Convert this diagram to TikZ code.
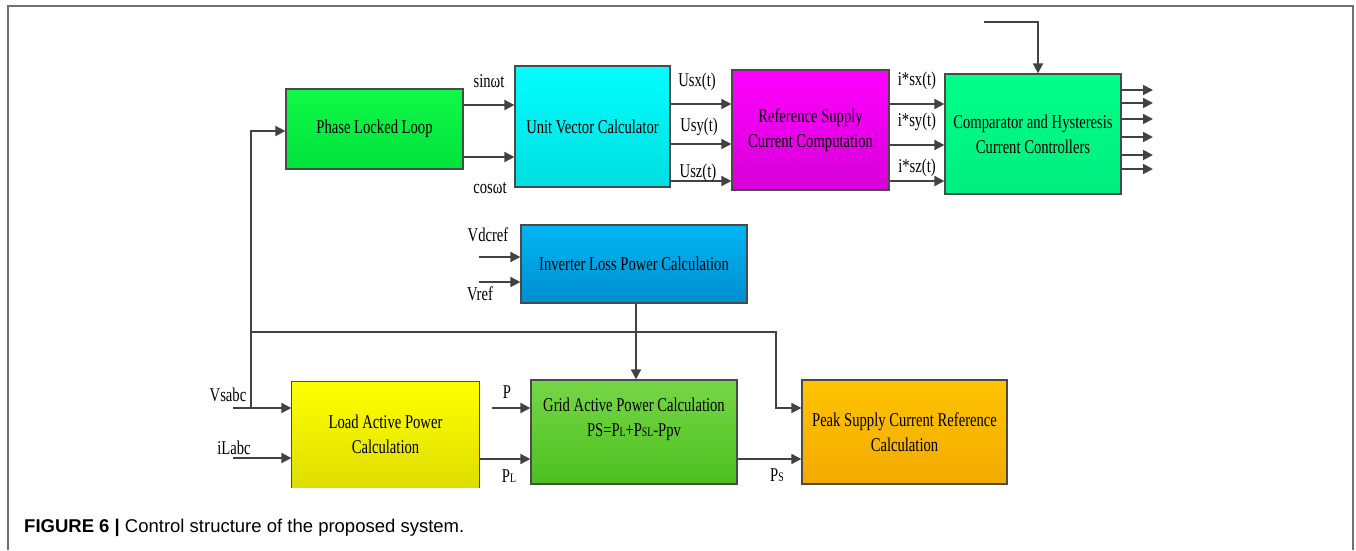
\documentclass[tikz,border=0pt]{standalone}
\usepackage{fontspec}
\setmainfont{Liberation Serif}
\newfontfamily\dfont[FakeStretch=0.75]{Liberation Serif}
\newfontfamily\capfont{Liberation Sans}
\usetikzlibrary{arrows.meta}
\definecolor{boxedge}{HTML}{4A4A4A}
\definecolor{wirec}{HTML}{424242}
\definecolor{framec}{HTML}{707070}
\newcommand\sml[1]{{\fontsize{13}{13}\selectfont #1}}
\tikzset{
  box/.style={draw=boxedge, line width=1.2pt, inner sep=0pt, align=center,
    font=\dfont\fontsize{19.5}{25}\selectfont, text=black},
  lbl/.style={inner sep=0pt, font=\dfont\fontsize{19.5}{25}\selectfont, text=black},
  wire/.style={draw=wirec, line width=1.8pt, line join=miter},
  arr/.style={wire, -{Triangle[length=10pt,width=10pt]}},
}
\begin{document}
\begin{tikzpicture}[x=1pt,y=-1pt]
\useasboundingbox (0,0) rectangle (1356,550);

% outer frame
\draw[framec, line width=1.8pt] (8,550) -- (8,6) -- (1353,6) -- (1353,550);

% blocks
\node[box, top color={rgb,255:red,16;green,250;blue,72}, bottom color={rgb,255:red,0;green,226;blue,60},
  minimum width=177pt, minimum height=80pt] (pll) at (374.5,129) {Phase Locked Loop};
\node[box, top color={rgb,255:red,0;green,255;blue,255}, bottom color={rgb,255:red,0;green,222;blue,224},
  minimum width=155pt, minimum height=121pt] (uvc) at (592.5,126.5) {Unit Vector Calculator};
\node[box, top color={rgb,255:red,255;green,0;blue,255}, bottom color={rgb,255:red,214;green,0;blue,214},
  minimum width=157pt, minimum height=120pt] (rscc) at (810.5,130) {Reference Supply\\Current Computation};
\node[box, top color={rgb,255:red,0;green,255;blue,136}, bottom color={rgb,255:red,0;green,238;blue,128},
  minimum width=176pt, minimum height=120pt] (chcc) at (1033,134) {Comparator and Hysteresis\\Current Controllers};
\node[box, top color={rgb,255:red,0;green,182;blue,242}, bottom color={rgb,255:red,0;green,142;blue,208},
  minimum width=226pt, minimum height=78pt] (inv) at (634,264) {Inverter Loss Power Calculation};
\node[box, draw=none, top color={rgb,255:red,255;green,255;blue,0}, bottom color={rgb,255:red,222;green,222;blue,0},
  minimum width=187pt, minimum height=105pt] (load) at (385.5,434.5) {Load Active Power\\Calculation};
\draw[boxedge, line width=1.2pt] (load.south west) -- (load.north west) -- (load.north east) -- (load.south east);
\node[box, top color={rgb,255:red,118;green,214;blue,70}, bottom color={rgb,255:red,76;green,192;blue,32},
  minimum width=206pt, minimum height=104pt] (grid) at (634,432) {};
\node[lbl, align=center] (gridtxt) at ([yshift=12.5pt]grid.center)
  {Grid Active Power Calculation\\PS=P\sml{L}+P\sml{SL}-Ppv};
\node[box, top color={rgb,255:red,255;green,196;blue,0}, bottom color={rgb,255:red,242;green,170;blue,0},
  minimum width=205pt, minimum height=104pt] (peak) at (904.5,432) {Peak Supply Current Reference\\Calculation};

% PLL -> unit vectors
\draw[arr] (pll.east |- 0,105) -- (uvc.west |- 0,105);
\draw[arr] (pll.east |- 0,157) -- (uvc.west |- 0,157);
\node[lbl] (lsin) at (489,81) {sinωt};
\node[lbl] (lcos) at (490,188) {cosωt};

% unit vectors -> reference currents
\draw[arr] (uvc.east |- 0,104) -- (rscc.west |- 0,104);
\draw[arr] (uvc.east |- 0,144) -- (rscc.west |- 0,144);
\draw[arr] (uvc.east |- 0,181) -- (rscc.west |- 0,181);
\node[lbl] (lusx) at (697,82) {Usx(t)};
\node[lbl] (lusy) at (699,127) {Usy(t)};
\node[lbl] (lusz) at (698,173) {Usz(t)};

% reference currents -> controllers
\draw[arr] (rscc.east |- 0,104) -- (chcc.west |- 0,104);
\draw[arr] (rscc.east |- 0,145) -- (chcc.west |- 0,145);
\draw[arr] (rscc.east |- 0,181) -- (chcc.west |- 0,181);
\node[lbl] (lisx) at (917,81) {i*sx(t)};
\node[lbl] (lisy) at (917,122) {i*sy(t)};
\node[lbl] (lisz) at (917,168) {i*sz(t)};

% controller outputs (switching signals)
\foreach \yy [count=\i] in {90,103,119,137,155,169} {
  \coordinate (out\i) at (1153,\yy);
  \draw[arr] (chcc.east |- out\i) -- (out\i);
}
% controller top input
\coordinate (topin) at (984,22);
\draw[arr] (topin) -| ([xshift=5pt]chcc.north);

% inverter loss inputs
\coordinate (vdcin) at (479,257);
\coordinate (vrefin) at (479,282);
\draw[arr] (vdcin) -- (inv.west |- vdcin);
\draw[arr] (vrefin) -- (inv.west |- vrefin);
\node[lbl] (lvdc) at (488,235) {Vdcref};
\node[lbl] (lvref) at (480,294) {Vref};

% inverter loss -> grid power
\draw[arr] ([xshift=2pt]inv.south) -- ([xshift=2pt]grid.north);

% supply voltage distribution
\coordinate (vsin) at (233,408);
\coordinate (vsj) at (251,408);
\coordinate (vsh) at (251,332);
\coordinate (vsp) at (776,408);
\draw[arr] (vsin) -- (load.west |- vsin);
\draw[arr] (vsj) -- (251,131) -- (pll.west |- 0,131);
\draw[arr] (vsh) -| (vsp) -- (peak.west |- vsp);
\node[lbl] (lvs) at (228,395) {Vsabc};

% load current input
\coordinate (ilin) at (233,458);
\draw[arr] (ilin) -- (load.west |- ilin);
\node[lbl] (lil) at (234,448) {iLabc};

% power signals
\coordinate (pin) at (492,408);
\draw[arr] (pin) -- (grid.west |- pin);
\node[lbl] (lp) at (507,392) {P};
\draw[arr] (load.east |- 0,459) -- (grid.west |- 0,459);
\node[lbl] (lpl) at (509,476) {P\sml{L}};
\draw[arr] (grid.east |- 0,459) -- (peak.west |- 0,459);
\node[lbl] (lps) at (777,475) {P\sml{S}};

% caption
\node[anchor=west, inner sep=0pt, font=\capfont\fontsize{18.5}{21}\selectfont] (cap) at (24,528)
  {\textbf{FIGURE 6 |} Control structure of the proposed system.};
\end{tikzpicture}
\end{document}
